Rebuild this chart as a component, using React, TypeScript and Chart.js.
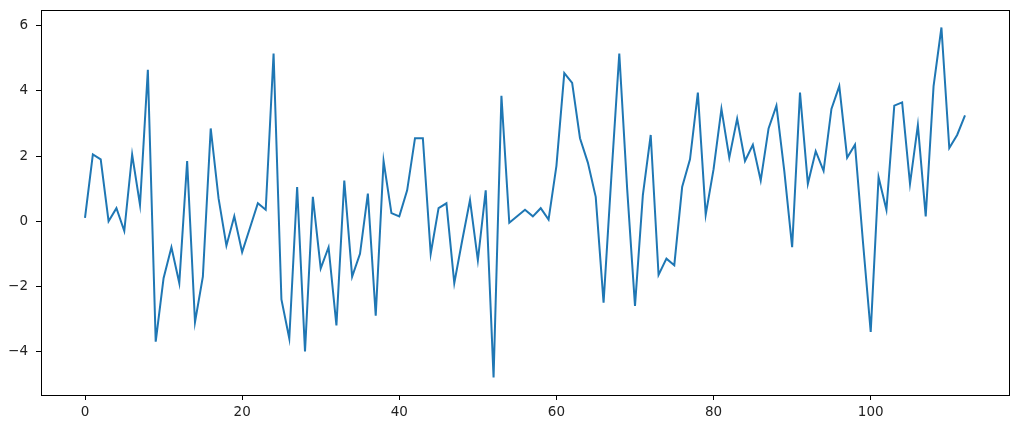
import React, { useEffect, useRef } from "react";
import { Chart, registerables } from "chart.js";

Chart.register(...registerables);

const seriesValues: number[] = [
  0.1, 2.05, 1.9, 0.0, 0.4, -0.3, 2.05, 0.5, 4.65, -3.7,
  -1.75, -0.8, -1.9, 1.85, -3.1, -1.7, 2.85, 0.7, -0.75, 0.15,
  -0.95, -0.2, 0.55, 0.35, 5.15, -2.4, -3.6, 1.05, -4.0, 0.75,
  -1.45, -0.8, -3.2, 1.25, -1.7, -1.0, 0.85, -2.9, 1.85, 0.25,
  0.15, 0.95, 2.55, 2.55, -1.0, 0.4, 0.55, -1.9, -0.6, 0.65,
  -1.2, 0.95, -4.8, 3.85, -0.05, 0.15, 0.35, 0.15, 0.4, 0.05,
  1.7, 4.55, 4.25, 2.55, 1.8, 0.75, -2.5, 1.4, 5.15, 1.0,
  -2.6, 0.8, 2.65, -1.65, -1.15, -1.35, 1.05, 1.9, 3.95, 0.2,
  1.6, 3.45, 1.95, 3.15, 1.85, 2.35, 1.25, 2.85, 3.55, 1.55,
  -0.8, 3.95, 1.15, 2.15, 1.55, 3.45, 4.15, 1.95, 2.35, -0.6,
  -3.4, 1.35, 0.35, 3.55, 3.65, 1.15, 2.95, 0.15, 4.15, 5.95,
  2.25, 2.65, 3.25,
];

const xTickValues: number[] = [0, 20, 40, 60, 80, 100];
const yTickValues: number[] = [-4, -2, 0, 2, 4, 6];

const fmt = (v: number) => (v < 0 ? "\u2212" + Math.abs(v) : String(v));

const frame = {
  id: "frame",
  afterDraw(chart: any) {
    const { ctx, chartArea } = chart;
    ctx.save();
    ctx.strokeStyle = "#000";
    ctx.lineWidth = 1;
    ctx.strokeRect(
      Math.round(chartArea.left) + 0.5,
      Math.round(chartArea.top) + 0.5,
      Math.round(chartArea.right - chartArea.left),
      Math.round(chartArea.bottom - chartArea.top)
    );
    ctx.restore();
  },
};

export default function App() {
  const ref = useRef<HTMLCanvasElement | null>(null);

  useEffect(() => {
    document.body.style.margin = "0";
    if (!ref.current) return;
    const n = seriesValues.length;
    const xPad = (n - 1) * 0.05;
    const yMin = Math.min(...seriesValues);
    const yMax = Math.max(...seriesValues);
    const yPad = (yMax - yMin) * 0.05;
    const font = { family: "DejaVu Sans", size: 13.5 };
    const chart = new Chart(ref.current, {
      type: "line",
      data: {
        datasets: [
          {
            data: seriesValues.map((v, i) => ({ x: i, y: v })),
            borderColor: "#1f77b4",
            borderWidth: 2,
            pointRadius: 0,
            tension: 0,
            fill: false,
          },
        ],
      },
      options: {
        animation: false,
        responsive: false,
        maintainAspectRatio: false,
        layout: { padding: { left: 0, top: 10, right: 11, bottom: 0 } },
        plugins: { legend: { display: false }, tooltip: { enabled: false } },
        scales: {
          x: {
            type: "linear",
            min: -xPad,
            max: n - 1 + xPad,
            afterBuildTicks: (s: any) => {
              s.ticks = xTickValues.map((v) => ({ value: v }));
            },
            afterFit: (s: any) => {
              s.height = 37;
              s.paddingLeft = 0;
              s.paddingRight = 0;
            },
            ticks: { font, color: "#222", padding: 4, callback: (v: any) => fmt(Number(v)), maxRotation: 0 },
            grid: { drawOnChartArea: false, drawTicks: true, tickLength: 5, color: "#000" },
            border: { display: true, color: "#000" },
          },
          y: {
            type: "linear",
            min: yMin - yPad,
            max: yMax + yPad,
            afterBuildTicks: (s: any) => {
              s.ticks = yTickValues.map((v) => ({ value: v }));
            },
            afterFit: (s: any) => {
              s.width = 41;
              s.paddingTop = 0;
              s.paddingBottom = 0;
            },
            ticks: { font, color: "#222", padding: 8, callback: (v: any) => fmt(Number(v)) },
            grid: { drawOnChartArea: false, drawTicks: true, tickLength: 5, color: "#000" },
            border: { display: true, color: "#000" },
          },
        },
      } as any,
      plugins: [frame],
    });
    return () => chart.destroy();
  }, []);

  return (
    <div style={{ width: 1020, height: 432, background: "#fff" }}>
      <canvas ref={ref} width={1020} height={432} style={{ display: "block" }} />
    </div>
  );
}
